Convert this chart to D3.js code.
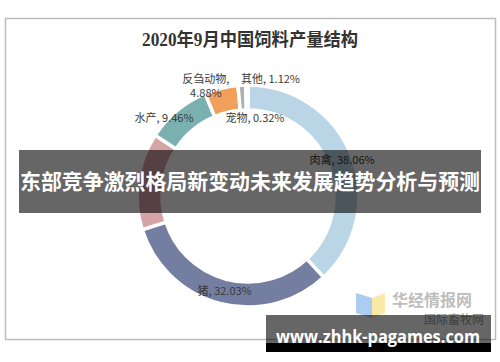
<!DOCTYPE html>
<html>
<head>
<meta charset="utf-8">
<script src="https://cdn.jsdelivr.net/npm/d3@7"></script>
<style>
  body { margin: 0; background: #fff; }
  svg { display: block; }
</style>
</head>
<body>
<div id="chart"></div>
<script>
let width = 500,
  height = 362

// data
let title = '2020年9月中国饲料产量结构'
let categories = ['肉禽', '猪', '蛋禽', '水产', '反刍动物', '其他', '宠物']
let shares = [38.06, 32.03, 14.13, 9.46, 4.88, 1.12, 0.32]
let showLabel = [true, true, false, true, true, true, true]
let banner = '东部竞争激烈格局新变动未来发展趋势分析与预测'
let site = 'www.zhhk-pagames.com'

let colors = ['#b9d5e6', '#737ea1', '#d5a4a7', '#7ab1b0', '#f0a05b', '#abb0b2', '#c9dbe6']

// label nudges (px) from the point at r=100 on the slice middle
let nudges = [[1, 1], [2, -2], [0, 0], [-20, -1], [-18, -13], [28, -17], [8, 22]]

let svg = d3.select('#chart')
  .append('svg')
  .attr('width', width)
  .attr('height', height)

// frame
svg.append('rect')
  .attr('x', 5.5).attr('y', 18.5)
  .attr('width', 490).attr('height', 321)
  .attr('fill', '#fff')
  .attr('stroke', '#bdbdbd')
  .attr('stroke-width', 1.5)

svg.append('text')
  .attr('x', 250).attr('y', 46)
  .attr('text-anchor', 'middle')
  .attr('font-family', '"Liberation Serif", "Noto Sans CJK SC", serif')
  .attr('font-weight', 'bold')
  .attr('font-size', '18px')
  .attr('fill', '#333')
  .attr('textLength', 216)
  .attr('lengthAdjust', 'spacingAndGlyphs')
  .text(title)

let cx = 248, cy = 196
let outerR = 111, innerR = 86

let data = categories.map((c, i) => ({ name: c, value: shares[i], show: showLabel[i], i: i }))

let pie = d3.pie()
  .sort(null)
  .value(d => d.value)

let arc = d3.arc()
  .innerRadius(innerR)
  .outerRadius(outerR)

let g = svg.append('g')
  .attr('transform', `translate(${cx},${cy})`)

let arcs = pie(data)

g.selectAll('path')
  .data(arcs)
  .enter().append('path')
  .attr('d', arc)
  .attr('fill', d => colors[d.data.i])
  .attr('stroke', '#fff')
  .attr('stroke-width', 3.5)

let labelArc = d3.arc().innerRadius(100).outerRadius(100)

let fmt = d3.format('.2f')

let labels = g.selectAll('text.lbl')
  .data(arcs.filter(d => d.data.show))
  .enter().append('text')
  .attr('class', 'lbl')
  .attr('text-anchor', 'middle')
  .attr('font-family', '"Noto Sans CJK SC", "Liberation Sans", sans-serif')
  .attr('font-size', '11px')
  .attr('fill', '#3a3a3a')
  .attr('transform', d => {
    let c = labelArc.centroid(d)
    let n = nudges[d.data.i]
    return `translate(${c[0] + n[0]},${c[1] + n[1]})`
  })

labels.each(function(d) {
  let t = d3.select(this)
  let full = d.data.name + ', ' + fmt(d.data.value) + '%'
  if (d.data.name === '反刍动物') {
    t.append('tspan').attr('x', 0).attr('dy', '-0.25em').text(d.data.name + ',')
    t.append('tspan').attr('x', 0).attr('dy', '1.25em').text(fmt(d.data.value) + '%')
  } else {
    t.append('tspan').attr('x', 0).attr('dy', '0.35em').text(full)
  }
})

// overlay banner
svg.append('rect')
  .attr('x', 19).attr('y', 150)
  .attr('width', 462).attr('height', 63)
  .attr('fill', 'rgba(0,0,0,0.6)')

svg.append('text')
  .attr('x', 250).attr('y', 189)
  .attr('text-anchor', 'middle')
  .attr('font-family', '"Noto Sans CJK SC", sans-serif')
  .attr('font-weight', 'bold')
  .attr('font-size', '21px')
  .attr('fill', '#fff')
  .attr('textLength', 460)
  .attr('lengthAdjust', 'spacingAndGlyphs')
  .text(banner)

// watermark logo
let wm = svg.append('g').attr('opacity', 0.85)
wm.append('path')
  .attr('d', 'M356,293 L372,298 L372,318 L356,313 Z')
  .attr('fill', '#9ec4f0')
wm.append('path')
  .attr('d', 'M372,298 L385,293 L385,313 L372,318 Z')
  .attr('fill', '#fbe69a')
wm.append('text')
  .attr('x', 392).attr('y', 306)
  .attr('font-family', '"Noto Sans CJK SC", sans-serif')
  .attr('font-weight', 'bold')
  .attr('font-size', '16px')
  .attr('fill', '#b3b3b3')
  .text('华经情报网')
wm.append('text')
  .attr('x', 424).attr('y', 324)
  .attr('font-family', '"Noto Sans CJK SC", sans-serif')
  .attr('font-size', '12px')
  .attr('fill', '#888')
  .text('国际畜牧网')

// bottom url strip
svg.append('rect')
  .attr('x', 266).attr('y', 315)
  .attr('width', 225).attr('height', 29)
  .attr('fill', 'rgba(0,0,0,0.6)')
svg.append('rect')
  .attr('x', 266).attr('y', 343)
  .attr('width', 225).attr('height', 9)
  .attr('fill', '#000')

svg.append('text')
  .attr('x', 378).attr('y', 343)
  .attr('text-anchor', 'middle')
  .attr('font-family', '"Open Sans", "DejaVu Sans", sans-serif')
  .attr('font-weight', 'bold')
  .attr('font-size', '17px')
  .attr('fill', '#fff')
  .attr('textLength', 204)
  .attr('lengthAdjust', 'spacingAndGlyphs')
  .text(site)
</script>
</body>
</html>
